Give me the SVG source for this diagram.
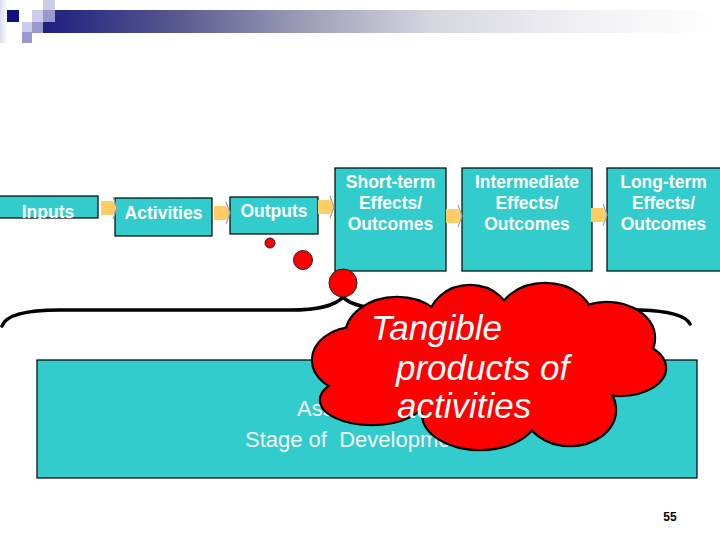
<svg xmlns="http://www.w3.org/2000/svg" width="720" height="540" viewBox="0 0 720 540">
  <defs>
    <linearGradient id="hdr" x1="0" y1="0" x2="1" y2="0">
      <stop offset="0" stop-color="#1a1a80"/>
      <stop offset="0.2" stop-color="#55558e"/>
      <stop offset="0.38" stop-color="#9898b4"/>
      <stop offset="0.58" stop-color="#d6d6e0"/>
      <stop offset="0.8" stop-color="#f1f1f4"/>
      <stop offset="1" stop-color="#ffffff"/>
    </linearGradient>
    <linearGradient id="stripe" x1="0" y1="0" x2="1" y2="0">
      <stop offset="0" stop-color="#dcdcee"/>
      <stop offset="1" stop-color="#ffffff"/>
    </linearGradient>
    <g id="arrow">
      <path d="M0,-7 H12 L16,0 L12,7 H0 Z" fill="#ffcc66"/>
      <path d="M12,-11 L16,0 L12,11" fill="none" stroke="#a0a0a0" stroke-width="1.2"/>
    </g>
  </defs>
  <style>
    .box { fill: #33cccc; stroke: #000; stroke-width: 1.2; }
    .lbl { font-family: "Liberation Sans", Arial, sans-serif; font-weight: bold; font-size: 17.5px; fill: #ffffff; text-anchor: middle; }
    .dot { fill: #ff0000; stroke: #222; stroke-width: 1; }
    .cloud { fill: #ff0000; }
    .cloudtxt { font-family: "Liberation Sans", Arial, sans-serif; font-style: italic; font-size: 35px; fill: #ffffff; }
    .btxt { font-family: "Liberation Sans", Arial, sans-serif; font-size: 22px; fill: #f4f4f4; }
  </style>
  <rect width="720" height="540" fill="#ffffff"/>

  <g id="header">
    <rect x="0" y="0" width="8" height="43" fill="url(#stripe)"/>
    <rect x="32" y="10" width="688" height="23" fill="url(#hdr)"/>
    <rect x="7" y="10" width="12" height="12" fill="#10107e"/>
    <rect x="32" y="10" width="11" height="12" fill="#ccccea"/>
    <rect x="43" y="0" width="12" height="10" fill="#ccccea"/>
    <rect x="43" y="10" width="12" height="12" fill="#9999cc"/>
    <rect x="22" y="22" width="10" height="10" fill="#ccccea"/>
    <rect x="32" y="22" width="11" height="11" fill="#9999cc"/>
    <rect x="22" y="32" width="10" height="11" fill="#9999cc"/>
  </g>

  <g id="inputs">
    <rect class="box" x="-1" y="196" width="99" height="22"/>
    <text class="lbl" x="48" y="218">Inputs</text>
  </g>
  <g id="activities">
    <rect class="box" x="115" y="198" width="97" height="38"/>
    <text class="lbl" x="163.5" y="219">Activities</text>
  </g>
  <g id="outputs">
    <rect class="box" x="230" y="197" width="88" height="37"/>
    <text class="lbl" x="274" y="217">Outputs</text>
  </g>
  <g id="short-term">
    <rect class="box" x="335" y="168" width="111" height="103"/>
    <text class="lbl" x="390.5" y="188">Short-term</text>
    <text class="lbl" x="390.5" y="209">Effects/</text>
    <text class="lbl" x="390.5" y="230">Outcomes</text>
  </g>
  <g id="intermediate">
    <rect class="box" x="462" y="168" width="130" height="103"/>
    <text class="lbl" x="527" y="188">Intermediate</text>
    <text class="lbl" x="527" y="209">Effects/</text>
    <text class="lbl" x="527" y="230">Outcomes</text>
  </g>
  <g id="long-term">
    <rect class="box" x="607" y="168" width="120" height="103"/>
    <text class="lbl" x="663.5" y="188">Long-term</text>
    <text class="lbl" x="663.5" y="209">Effects/</text>
    <text class="lbl" x="663.5" y="230">Outcomes</text>
  </g>

  <g id="connectors">
    <use href="#arrow" transform="translate(101,208)"/>
    <use href="#arrow" transform="translate(214,213)"/>
    <use href="#arrow" transform="translate(318,207)"/>
    <use href="#arrow" transform="translate(446,216)"/>
    <use href="#arrow" transform="translate(591,215)"/>
  </g>

  <g id="stage-box">
    <rect class="box" x="37" y="360" width="660" height="118"/>
    <text class="btxt" x="297" y="416">Assessing</text>
    <text class="btxt" x="245" y="447" xml:space="preserve">Stage of  Development</text>
  </g>

  <g id="brace">
    <path d="M2,326 C6,314 28,310 60,310 L290,310 C318,310 336,305 343,297 C350,305 368,309 395,310 L640,310 C670,311 686,316 690,324" fill="none" stroke="#000" stroke-width="3.5" stroke-linecap="round"/>
  </g>

  <g id="callout">
    <circle class="dot" cx="270" cy="243" r="5"/>
    <circle class="dot" cx="303" cy="260" r="9.5"/>
    <circle class="dot" cx="343" cy="283" r="14"/>
    <g id="cloud-outline" fill="#ff0000" stroke="#000" stroke-width="2.4">
      <ellipse cx="397" cy="336" rx="52" ry="39"/>
      <ellipse cx="470" cy="322" rx="42" ry="37"/>
      <ellipse cx="545" cy="320" rx="48" ry="37"/>
      <ellipse cx="607" cy="338" rx="48" ry="36"/>
      <ellipse cx="620" cy="368" rx="46" ry="28"/>
      <ellipse cx="570" cy="410" rx="46" ry="36"/>
      <ellipse cx="480" cy="414" rx="58" ry="36"/>
      <ellipse cx="372" cy="400" rx="52" ry="25"/>
      <ellipse cx="356" cy="360" rx="44" ry="33"/>
    </g>
    <g id="cloud-fill" class="cloud">
      <ellipse cx="397" cy="336" rx="51" ry="38"/>
      <ellipse cx="470" cy="322" rx="41" ry="36"/>
      <ellipse cx="545" cy="320" rx="47" ry="36"/>
      <ellipse cx="607" cy="338" rx="47" ry="35"/>
      <ellipse cx="620" cy="368" rx="45" ry="27"/>
      <ellipse cx="570" cy="410" rx="45" ry="35"/>
      <ellipse cx="480" cy="414" rx="57" ry="35"/>
      <ellipse cx="372" cy="400" rx="51" ry="24"/>
      <ellipse cx="356" cy="360" rx="43" ry="32"/>
      <ellipse cx="490" cy="365" rx="130" ry="55"/>
    </g>
    <text class="cloudtxt" x="371" y="340">Tangible</text>
    <text class="cloudtxt" x="396" y="380">products of</text>
    <text class="cloudtxt" x="397" y="418">activities</text>
  </g>

  <g id="page-number">
    <text x="670" y="521" font-family="'Liberation Sans', Arial, sans-serif" font-weight="bold" font-size="12" fill="#000" text-anchor="middle">55</text>
  </g>
</svg>
